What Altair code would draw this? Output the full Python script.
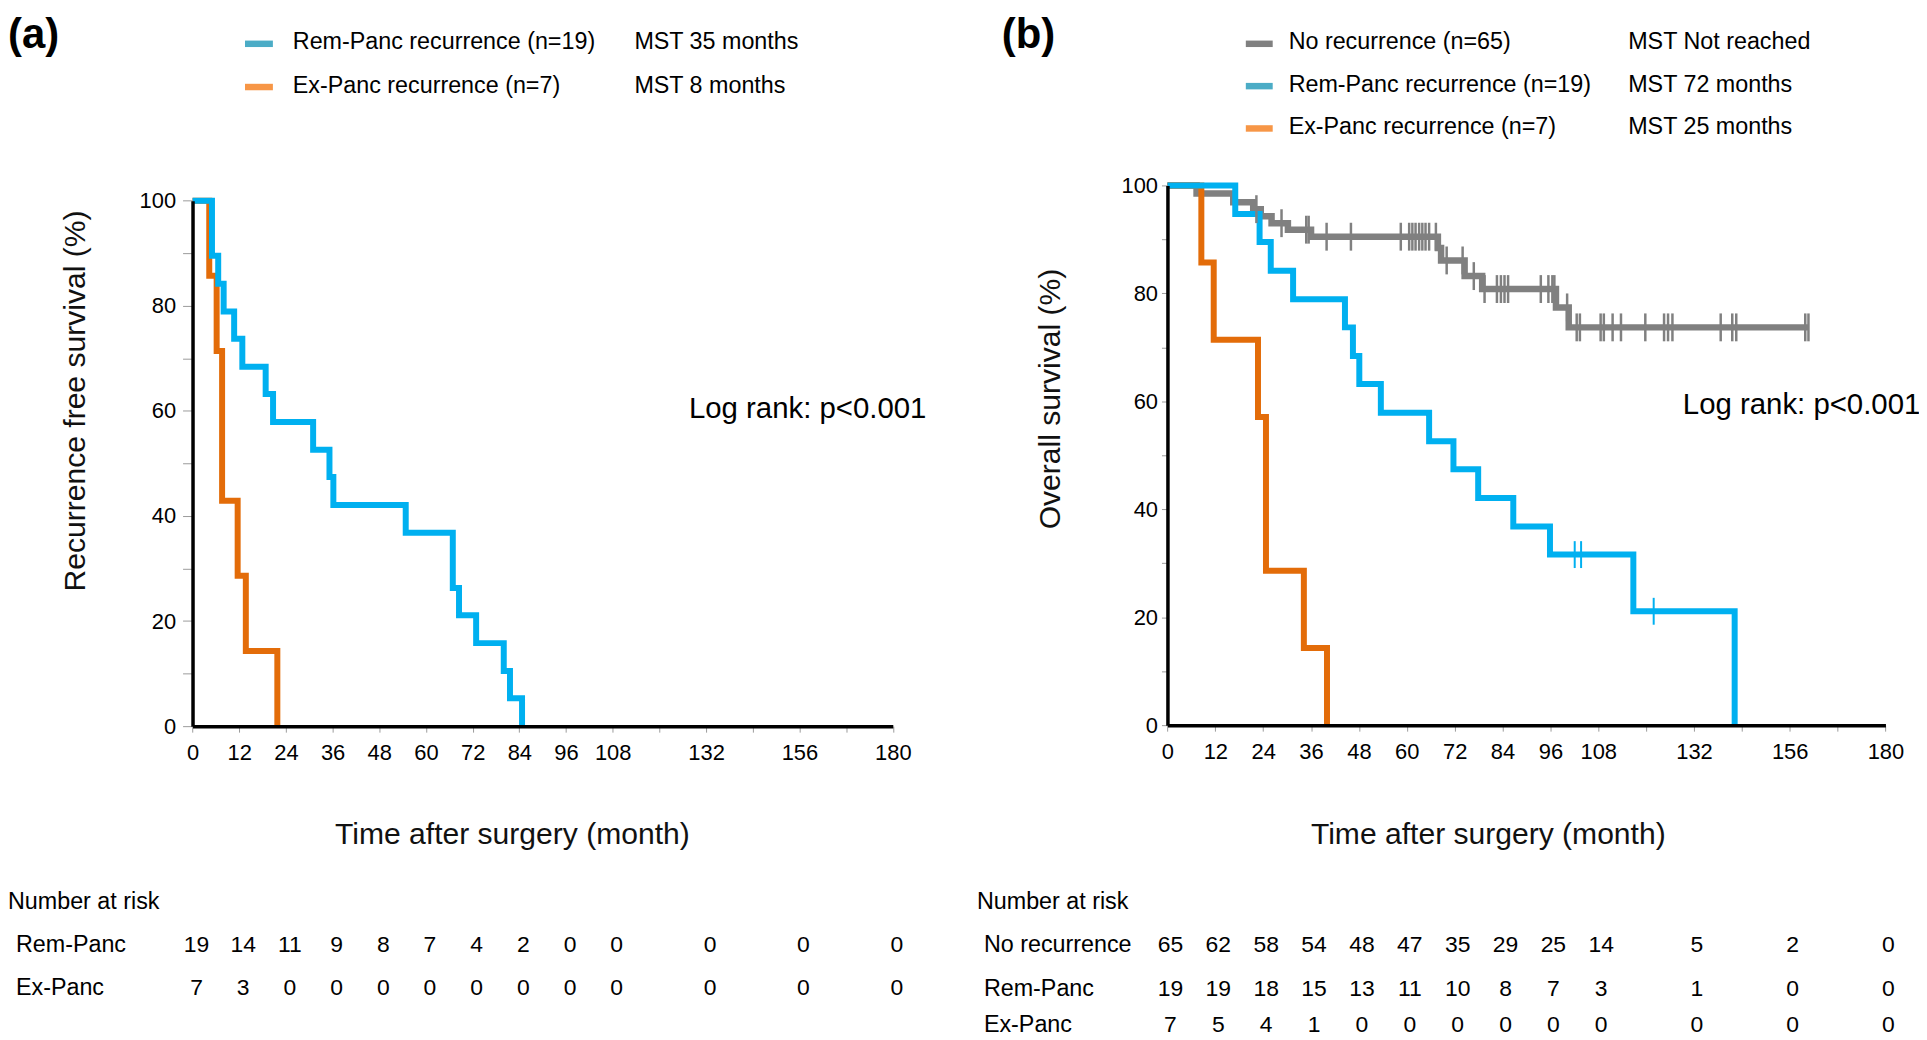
import altair as alt
import pandas as pd

FONT = "Liberation Sans"

# ---------------- data ----------------
# Panel (a): recurrence-free survival, Kaplan-Meier steps (time in months, survival %)
A_REM_TIME = [0, 5.0, 6.6, 8.0, 10.7, 12.8, 18.8, 20.7, 31.0, 35.2, 36.2, 54.8, 66.9, 68.5, 72.9, 80.0, 81.6, 84.7]
A_REM_SURV = [100, 89.5, 84.2, 78.9, 73.7, 68.4, 63.2, 57.9, 52.6, 47.4, 42.1, 36.8, 26.3, 21.1, 15.8, 10.5, 5.3, 0]
A_EX_TIME = [0, 4.3, 6.2, 7.6, 11.6, 13.7, 21.8]
A_EX_SURV = [100, 85.7, 71.4, 42.9, 28.6, 14.3, 0]

# Panel (b): overall survival
B_NO_TIME = [0, 7.3, 16.5, 21.5, 23.4, 26.1, 30.2, 36.0, 67.8, 68.6, 74.5, 78.9, 97.4, 100.6, 160.7]
B_NO_SURV = [100, 98.5, 96.9, 95.6, 94.3, 93.0, 91.8, 90.5, 88.4, 86.1, 83.2, 80.8, 77.4, 73.7, 73.7]
B_NO_CENSOR = [22.3, 28.6, 34.8, 35.4, 39.9, 46.0, 58.5, 60.6, 61.4, 62.2, 63.1, 63.9, 64.7, 65.6, 67.3,
               70.0, 74.0, 76.8, 79.5, 82.6, 83.6, 84.5, 85.4, 93.6, 95.5, 96.5, 97.0, 100.2, 102.6,
               103.4, 108.6, 109.4, 111.6, 113.7, 119.8, 124.5, 125.5, 126.6, 138.7, 141.6, 142.6,
               159.9, 160.7]
B_REM_TIME = [0, 17.0, 23.1, 25.9, 31.5, 44.5, 46.5, 48.1, 53.5, 65.6, 71.7, 77.9, 86.7, 95.9, 116.8, 142.2]
B_REM_SURV = [100, 94.7, 89.5, 84.2, 78.9, 73.7, 68.4, 63.2, 57.9, 52.6, 47.4, 42.1, 36.8, 31.6, 21.1, 0]
B_REM_CENSOR = [102.1, 103.7, 121.9]
B_EX_TIME = [0, 8.5, 11.6, 22.7, 24.7, 34.2, 40.0]
B_EX_SURV = [100, 85.7, 71.4, 57.1, 28.6, 14.3, 0]

X_TICKS = [0, 12, 24, 36, 48, 60, 72, 84, 96, 108, 120, 132, 144, 156, 168, 180]
Y_TICKS = [0, 10, 20, 30, 40, 50, 60, 70, 80, 90, 100]

RISK_TIMES = [0, 12, 24, 36, 48, 60, 72, 84, 96, 108, 132, 156, 180]
A_RISK_REM = [19, 14, 11, 9, 8, 7, 4, 2, 0, 0, 0, 0, 0]
A_RISK_EX = [7, 3, 0, 0, 0, 0, 0, 0, 0, 0, 0, 0, 0]
B_RISK_NO = [65, 62, 58, 54, 48, 47, 35, 29, 25, 14, 5, 2, 0]
B_RISK_REM = [19, 19, 18, 15, 13, 11, 10, 8, 7, 3, 1, 0, 0]
B_RISK_EX = [7, 5, 4, 1, 0, 0, 0, 0, 0, 0, 0, 0, 0]

A_LEGEND = ["Rem-Panc recurrence (n=19)", "Ex-Panc recurrence (n=7)"]
A_MST = ["MST 35 months", "MST 8 months"]
B_LEGEND = ["No recurrence (n=65)", "Rem-Panc recurrence (n=19)", "Ex-Panc recurrence (n=7)"]
B_MST = ["MST Not reached", "MST 72 months", "MST 25 months"]
A_ROWS = ["Rem-Panc", "Ex-Panc"]
B_ROWS = ["No recurrence", "Rem-Panc", "Ex-Panc"]
LOGRANK = "Log rank: p<0.001"

# ---------------- styles ----------------
BLUE, ORANGE, GRAY = "#00B0F0", "#E36C09", "#808080"
SW_BLUE, SW_ORANGE, SW_GRAY = "#4BACC6", "#F79646", "#808080"
W, H = 1919, 1032


def level_at(times, surv, t):
    v = surv[0]
    for ti, si in zip(times, surv):
        if ti <= t:
            v = si
    return v


def text_at(txt, x, y, size=23.4, weight="normal", align="left", baseline="alphabetic"):
    return alt.Chart(pd.DataFrame({"t": [txt]})).mark_text(
        font=FONT, fontSize=size, fontWeight=weight, align=align, baseline=baseline, color="black"
    ).encode(x=alt.value(x), y=alt.value(y), text="t:N")


def swatch(color, x1, x2, y):
    return alt.Chart(pd.DataFrame({"k": [0]})).mark_rule(color=color, strokeWidth=6.5).encode(
        x=alt.value(x1), x2=alt.value(x2), y=alt.value(y)
    )


def make_panel(p):
    xs = alt.Scale(domain=[0, 180], range=p["xrange"], nice=False, zero=False)
    ys = alt.Scale(domain=[0, 100], range=p["yrange"], nice=False, zero=False)
    common = dict(domainColor="black", domainWidth=3.5, tickColor="#9a9a9a", tickWidth=1,
                  labelFont=FONT, labelFontSize=22, labelColor="black", grid=False,
                  titleFont=FONT, titleFontSize=30.2, titleFontWeight="normal", titleColor="#111111",
                  titleAlign="center", titleBaseline="middle", zindex=1)
    xax = alt.Axis(values=X_TICKS, orient="bottom", offset=-(H - p["yrange"][0]),
                   labelExpr="indexof([120, 144, 168], datum.value) >= 0 ? '' : datum.label",
                   tickSize=6, labelPadding=10, labelFlush=False, labelOverlap=False,
                   title=p["xtitle"], titleX=p["xtitle_pos"][0], titleY=p["xtitle_pos"][1], **common)
    yax = alt.Axis(values=Y_TICKS, orient="left", offset=-p["xrange"][0],
                   labelExpr="datum.value % 20 == 0 ? datum.label : ''",
                   tickSize=p["ytick"], labelPadding=p["ypad"], labelFlush=False, labelOverlap=False,
                   title=p["ytitle"], titleX=p["ytitle_pos"][0], titleY=p["ytitle_pos"][1],
                   titleAngle=270, **common)

    def X(f):
        return alt.X(f, type="quantitative", scale=xs, axis=xax)

    def Y(f):
        return alt.Y(f, type="quantitative", scale=ys, axis=yax)

    layers = []
    for times, surv, color, width in p["curves"]:
        df = pd.DataFrame({"time": times, "surv": surv})
        layers.append(alt.Chart(df).mark_line(interpolate="step-after", color=color, strokeWidth=width,
                                               strokeJoin="miter").encode(x=X("time"), y=Y("surv")))
    for ctimes, times, surv, color, size, thick in p["censors"]:
        df = pd.DataFrame({"time": ctimes, "surv": [level_at(times, surv, t) for t in ctimes]})
        layers.append(alt.Chart(df).mark_tick(orient="vertical", color=color, size=size, thickness=thick,
                                               opacity=1).encode(x=X("time"), y=Y("surv")))
    # log-rank annotation (data coordinates)
    lx, ly = p["logrank"]
    layers.append(alt.Chart(pd.DataFrame({"time": [lx], "surv": [ly], "t": [LOGRANK]})).mark_text(
        font=FONT, fontSize=29.5, align="left", baseline="middle", color="black"
    ).encode(x=X("time"), y=Y("surv"), text="t:N"))
    # number-at-risk table aligned with the time axis
    for counts, ypx in p["risk"]:
        df = pd.DataFrame({"time": RISK_TIMES, "n": counts})
        layers.append(alt.Chart(df).mark_text(font=FONT, fontSize=23, align="center", baseline="alphabetic",
                                               dx=p["risk_dx"], color="black").encode(
            x=X("time"), y=alt.value(ypx), text=alt.Text("n:Q", format="d")))
    layers.extend(p["decor"])
    return alt.layer(*layers)


panel_a = make_panel(dict(
    xrange=[185.3, 888.5], yrange=[719, 191.3], ytick=10, ypad=7,
    xtitle="Time after surgery (month)", xtitle_pos=(506, 109),
    ytitle="Recurrence free survival (%)", ytitle_pos=(-117.3, 392),
    curves=[(A_EX_TIME, A_EX_SURV, ORANGE, 6), (A_REM_TIME, A_REM_SURV, BLUE, 6)],
    censors=[],
    logrank=(127.6, 60.4),
    risk=[(A_RISK_REM, 945.5), (A_RISK_EX, 989)], risk_dx=4,
    decor=[
        text_at("(a)", 0, 38.5, size=42, weight="bold"),
        swatch(SW_BLUE, 238, 266, 33.8), text_at(A_LEGEND[0], 286, 39.3), text_at(A_MST[0], 629, 39.3),
        swatch(SW_ORANGE, 238, 266, 77.2), text_at(A_LEGEND[1], 286, 82.7), text_at(A_MST[1], 629, 82.7),
        text_at("Number at risk", 0, 903),
        text_at(A_ROWS[0], 8, 945.5), text_at(A_ROWS[1], 8, 989),
    ],
))

panel_b = make_panel(dict(
    xrange=[1164.3, 1885.3], yrange=[718, 176], ytick=6, ypad=4,
    xtitle="Time after surgery (month)", xtitle_pos=(1486, 110),
    ytitle="Overall survival (%)", ytitle_pos=(-117.8, 390),
    curves=[(B_NO_TIME, B_NO_SURV, GRAY, 6.5), (B_EX_TIME, B_EX_SURV, ORANGE, 6),
            (B_REM_TIME, B_REM_SURV, BLUE, 6)],
    censors=[(B_NO_CENSOR, B_NO_TIME, B_NO_SURV, GRAY, 28, 2.5),
             (B_REM_CENSOR, B_REM_TIME, B_REM_SURV, BLUE, 27, 2)],
    logrank=(129.2, 59.4),
    risk=[(B_RISK_NO, 946), (B_RISK_REM, 989.5), (B_RISK_EX, 1026)], risk_dx=3,
    decor=[
        text_at("(b)", 998, 38.5, size=42, weight="bold"),
        swatch(SW_GRAY, 1243, 1270, 33.8), text_at(B_LEGEND[0], 1286, 39.3), text_at(B_MST[0], 1627, 39.3),
        swatch(SW_BLUE, 1243, 1270, 76.3), text_at(B_LEGEND[1], 1286, 81.8), text_at(B_MST[1], 1627, 81.8),
        swatch(SW_ORANGE, 1243, 1270, 118.8), text_at(B_LEGEND[2], 1286, 124.3), text_at(B_MST[2], 1627, 124.3),
        text_at("Number at risk", 973, 903),
        text_at(B_ROWS[0], 980, 946), text_at(B_ROWS[1], 980, 989.5), text_at(B_ROWS[2], 980, 1026),
    ],
))

chart = alt.layer(panel_a, panel_b).resolve_scale(x="independent", y="independent").properties(
    width=W, height=H, padding=0, autosize=alt.AutoSizeParams(type="none"), background="white"
).configure_view(stroke=None)

chart.save("out.html", embed_options={"renderer": "svg", "actions": False})
